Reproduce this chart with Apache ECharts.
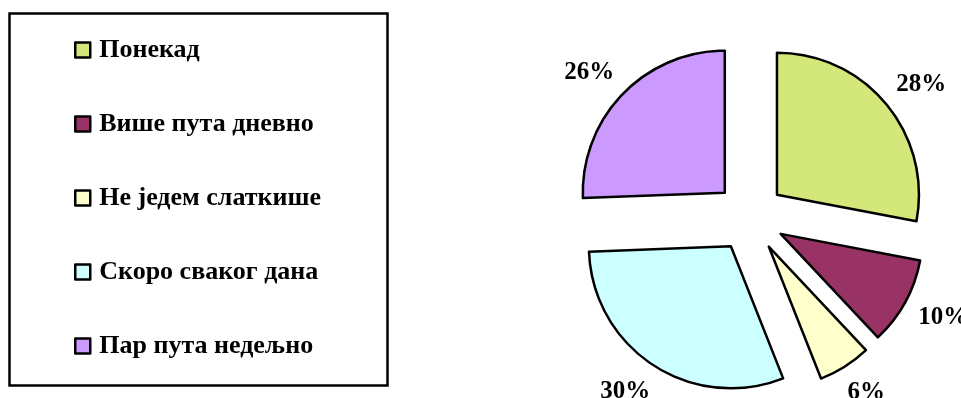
<!DOCTYPE html>
<html>
<head>
<meta charset="utf-8">
<script src="https://cdn.jsdelivr.net/npm/echarts@6/dist/echarts.min.js"></script>
<style>html,body{margin:0;padding:0;background:#fff}#c{width:961px;height:398px}</style>
</head>
<body>
<div id="c"></div>
<script>
const categories = ['Понекад', 'Више пута дневно', 'Не једем слаткише', 'Скоро сваког дана', 'Пар пута недељно'];
const values = [28, 10, 6, 30.4, 25.6];
const colors = ['#D3E77B', '#993366', '#FFFFCC', '#CCFFFF', '#CC99FF'];

const FONT = '"Times New Roman", "Liberation Serif", serif';
const chart = echarts.init(document.getElementById('c'));
chart.setOption({
  animation: false,
  backgroundColor: '#fff',
  graphic: [{
    type: 'rect',
    shape: { x: 9.5, y: 13.5, width: 378, height: 372 },
    style: { fill: 'none', stroke: '#000', lineWidth: 2.5 }
  }],
  legend: {
    orient: 'vertical', left: 74, top: 36, padding: 0,
    itemWidth: 15, itemHeight: 15, itemGap: 46,
    icon: 'rect',
    selectedMode: false,
    itemStyle: { borderColor: '#000', borderWidth: 2.5 },
    textStyle: { fontFamily: FONT, fontWeight: 'bold', fontSize: 26, color: '#000', lineHeight: 28, padding: [0, 0, 0, 4] }
  },
  series: [{
    type: 'pie',
    center: [750, 217],
    radius: 142,
    startAngle: 90,
    clockwise: true,
    selectedMode: 'multiple',
    selectedOffset: 35,
    avoidLabelOverlap: false,
    itemStyle: { borderColor: '#000', borderWidth: 2.5 },
    select: { itemStyle: { borderColor: '#000', borderWidth: 2.5 } },
    emphasis: { disabled: true },
    label: {
      show: true, position: 'outside', distanceToLabelLine: -14, overflow: 'none',
      formatter: p => Math.round(p.value) + '%',
      fontFamily: FONT, fontWeight: 'bold', fontSize: 25, color: '#000'
    },
    labelLine: { show: false, length: 31, length2: 0 },
    data: categories.map((n, i) => ({
      name: n, value: values[i], selected: true,
      itemStyle: { color: colors[i] },
      select: { itemStyle: { color: colors[i] } }
    }))
  }]
});
</script>
</body>
</html>
